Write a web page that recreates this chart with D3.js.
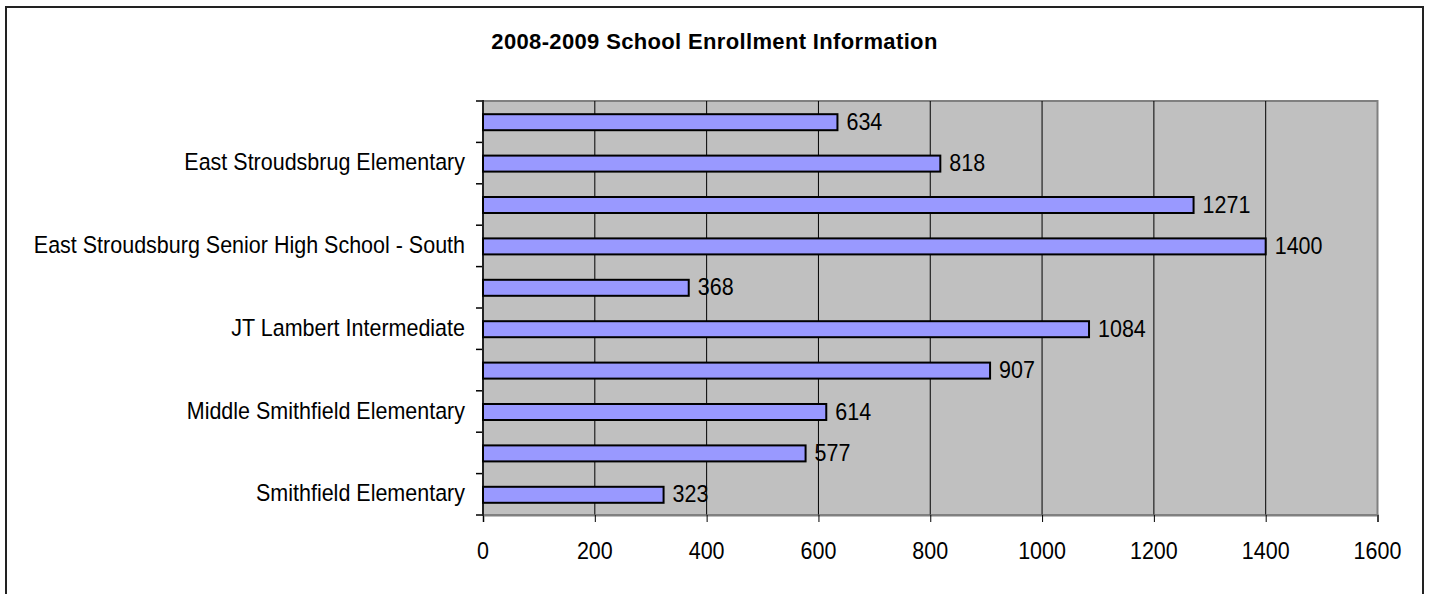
<!DOCTYPE html>
<html>
<head>
<meta charset="utf-8">
<script src="https://cdn.jsdelivr.net/npm/d3@7"></script>
<style>
    body { margin: 0; background: #fff; }
    svg text { font-family: "Liberation Sans", Arial, sans-serif; fill: #000; }
</style>
</head>
<body>
<div id="chart"></div>
<script>
const chartTitle = "2008-2009 School Enrollment Information";
const schools = [
    "Bushkill Elementary",
    "East Stroudsbrug Elementary",
    "East Stroudsburg Senior High School - North",
    "East Stroudsburg Senior High School - South",
    "J.M. Hill Elementary",
    "JT Lambert Intermediate",
    "Lehman Intermediate",
    "Middle Smithfield Elementary",
    "Resica Elementary",
    "Smithfield Elementary"
];
const enrollment = [634, 818, 1271, 1400, 368, 1084, 907, 614, 577, 323];
const xTicks = [0, 200, 400, 600, 800, 1000, 1200, 1400, 1600];

// text in the original is a bit taller than it is wide
function stretch(sel, k) {
    sel.each(function() {
        const t = d3.select(this);
        const tx = +t.attr("x") || 0, ty = +t.attr("y") || 0;
        t.attr("x", 0).attr("y", 0)
            .attr("transform", `translate(${tx},${ty}) scale(1,${k})`);
    });
}

function drawChart() {
    const width = 1429, height = 594;
    const plot = { left: 483, right: 1377.5, top: 101, bottom: 515 };
    const fs = "21.5px";

    const svg = d3.select("#chart").append("svg")
        .attr("width", width)
        .attr("height", height);

    // outer chart frame (bottom edge runs off the picture)
    svg.append("rect")
        .attr("x", 6).attr("y", 7)
        .attr("width", 1417).attr("height", 600)
        .style("fill", "#fff")
        .style("stroke", "#222")
        .style("stroke-width", 2);

    svg.append("text")
        .attr("x", 714.5)
        .attr("y", 48.5)
        .attr("text-anchor", "middle")
        .style("font-size", "22px")
        .style("font-weight", "bold")
        .style("letter-spacing", "0.35px")
        .text(chartTitle)
        .call(stretch, 1.03);

    const x = d3.scaleLinear()
        .domain([xTicks[0], xTicks[xTicks.length - 1]])
        .range([plot.left, plot.right]);

    const y = d3.scaleBand()
        .domain(schools)
        .range([plot.top, plot.bottom])
        .padding(0);

    svg.append("rect")
        .attr("x", plot.left).attr("y", plot.top)
        .attr("width", plot.right - plot.left)
        .attr("height", plot.bottom - plot.top)
        .style("fill", "#c0c0c0")
        .style("stroke", "#808080")
        .style("stroke-width", 2);

    // vertical gridlines
    svg.selectAll("line.grid")
        .data(xTicks.slice(1, -1))
        .enter()
        .append("line")
        .attr("class", "grid")
        .attr("x1", d => x(d)).attr("x2", d => x(d))
        .attr("y1", plot.top).attr("y2", plot.bottom)
        .style("stroke", "#000")
        .style("stroke-width", 1);

    // x axis
    const xAxis = svg.append("g")
        .attr("transform", `translate(0,${plot.bottom})`)
        .call(d3.axisBottom(x).tickValues(xTicks).tickSize(7).tickFormat(""));
    xAxis.select(".domain").style("stroke", "#808080").style("stroke-width", 2);
    xAxis.selectAll(".tick line").style("stroke", "#000");

    svg.selectAll("text.xlabel")
        .data(xTicks)
        .enter()
        .append("text")
        .attr("class", "xlabel")
        .attr("x", d => x(d))
        .attr("y", 559)
        .attr("text-anchor", "middle")
        .style("font-size", fs)
        .text(d => d)
        .call(stretch, 1.12);

    // category axis: ticks on band boundaries, labels on every other band
    const boundaries = schools.map(s => y(s)).concat([plot.bottom]);
    svg.selectAll("line.ytick")
        .data(boundaries)
        .enter()
        .append("line")
        .attr("class", "ytick")
        .attr("x1", plot.left - 7).attr("x2", plot.left)
        .attr("y1", d => d).attr("y2", d => d)
        .style("stroke", "#000")
        .style("stroke-width", 1.5);

    svg.append("line")
        .attr("x1", plot.left).attr("x2", plot.left)
        .attr("y1", plot.top - 1).attr("y2", plot.bottom + 1)
        .style("stroke", "#222")
        .style("stroke-width", 2);

    svg.selectAll("text.ylabel")
        .data(schools.filter((s, i) => i % 2 === 1))
        .enter()
        .append("text")
        .attr("class", "ylabel")
        .attr("x", plot.left - 18)
        .attr("y", d => y(d) + y.bandwidth() / 2 + 7)
        .attr("text-anchor", "end")
        .style("font-size", fs)
        .text(d => d)
        .call(stretch, 1.12);

    // bars
    const barH = 16;
    svg.selectAll("rect.bar")
        .data(schools)
        .enter()
        .append("rect")
        .attr("class", "bar")
        .attr("x", x(0))
        .attr("y", d => y(d) + (y.bandwidth() - barH) / 2 + 0.5)
        .attr("width", (d, i) => x(enrollment[i]) - x(0))
        .attr("height", barH)
        .style("fill", "#9999ff")
        .style("stroke", "#000")
        .style("stroke-width", 2);

    svg.selectAll("text.value")
        .data(schools)
        .enter()
        .append("text")
        .attr("class", "value")
        .attr("x", (d, i) => x(enrollment[i]) + 9)
        .attr("y", d => y(d) + y.bandwidth() / 2 + 8)
        .style("font-size", fs)
        .text((d, i) => enrollment[i])
        .call(stretch, 1.12);
}

document.addEventListener('DOMContentLoaded', () => {
    drawChart();
});
</script>
</body>
</html>
